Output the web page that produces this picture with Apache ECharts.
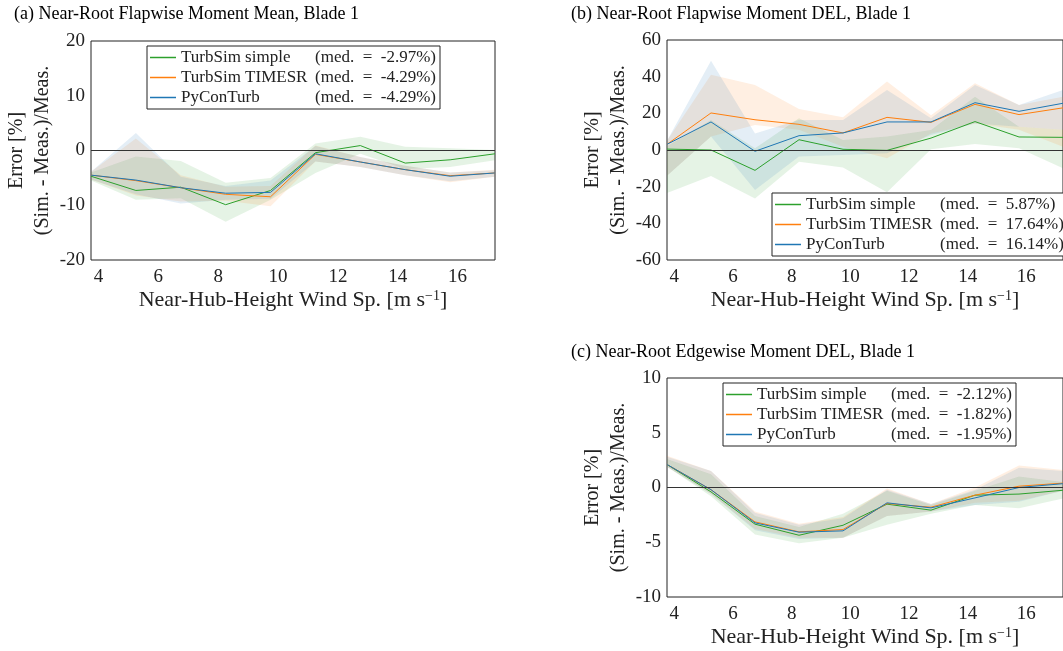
<!DOCTYPE html>
<html>
<head>
<meta charset="utf-8">
<title>Blade 1 near-root moments</title>
<script src="https://cdn.jsdelivr.net/npm/echarts@6/dist/echarts.min.js"></script>
<style>
  html, body { margin: 0; padding: 0; background: #fff; }
  #chart { width: 1063px; height: 651px; }
</style>
</head>
<body>
<div id="chart"></div>
<script>
// wind speed bin centres and tick labels
var windSp = [3.75, 5.25, 6.75, 8.25, 9.75, 11.25, 12.75, 14.25, 15.75, 17.25];
var xTicks = [4, 6, 8, 10, 12, 14, 16];
var names = ['TurbSim simple', 'TurbSim TIMESR', 'PyConTurb'];
var colors = ['#2ca02c', '#ff7f0e', '#1f77b4'];

// (a) flapwise mean
var aSimple   = [-4.7, -7.3, -6.7, -9.9, -7.3, -0.4, 0.9, -2.3, -1.7, -0.6];
var aSimpleLo = [-5.5, -9.0, -8.7, -13.0, -9.0, -4.1, -0.6, -3.4, -3.0, -1.8];
var aSimpleHi = [-4.0, -1.1, -1.9, -5.9, -5.0, 1.3, 2.5, 0.7, 0.4, 0.1];
var aTimesr   = [-4.5, -5.5, -6.8, -8.0, -8.45, -0.7, -2.1, -3.5, -4.6, -4.1];
var aTimesrLo = [-5.3, -8.2, -9.3, -9.2, -10.2, -2.0, -3.0, -4.5, -5.8, -4.8];
var aTimesrHi = [-3.9, 2.2, -4.5, -6.6, -6.5, 0.9, -1.2, -2.8, -4.0, -3.5];
var aPyCon    = [-4.5, -5.4, -6.8, -7.8, -7.65, -0.6, -2.1, -3.5, -4.7, -4.1];
var aPyConLo  = [-5.3, -8.0, -9.7, -9.0, -8.8, -2.0, -3.0, -4.5, -5.6, -4.8];
var aPyConHi  = [-3.9, 3.2, -4.8, -6.5, -5.5, 0.8, -1.2, -2.8, -4.0, -3.6];
var aMed = [-2.97, -4.29, -4.29];

// (b) flapwise DEL
var bSimple   = [0.5, 0.0, -11.1, 5.6, 0.4, -0.2, 6.5, 15.5, 7.1, 6.9];
var bSimpleLo = [-23.5, -14.2, -26.4, -6.4, -9.5, -23.1, 0.4, 3.3, 1.0, -10.0];
var bSimpleHi = [2.0, 16.4, 1.0, 17.3, 5.5, 7.3, 10.9, 29.0, 12.7, 11.0];
var bTimesr   = [3.1, 20.2, 16.5, 14.0, 9.3, 17.8, 15.1, 24.9, 19.3, 23.0];
var bTimesrLo = [-14.0, 7.3, 13.6, 11.0, 1.8, -4.5, 9.0, 14.5, 11.0, 1.8];
var bTimesrHi = [5.0, 41.0, 35.5, 22.4, 17.8, 37.3, 19.0, 36.4, 24.5, 29.0];
var bPyCon    = [3.1, 15.3, -0.7, 7.8, 9.3, 15.3, 15.3, 25.8, 21.1, 25.5];
var bPyConLo  = [-14.0, 7.3, -21.8, -3.6, -2.7, -1.8, 8.2, 14.5, 12.7, 11.0];
var bPyConHi  = [5.0, 48.7, 9.0, 16.4, 16.4, 32.7, 17.3, 35.5, 24.5, 32.7];
var bMed = [5.87, 17.64, 16.14];

// (c) edgewise DEL
var cSimple   = [2.1, -0.4, -3.35, -4.36, -3.45, -1.52, -2.07, -0.7, -0.6, -0.25];
var cSimpleLo = [1.9, -0.8, -4.3, -5.1, -4.6, -3.4, -2.4, -1.6, -1.9, -1.0];
var cSimpleHi = [2.6, 1.2, -2.6, -3.6, -2.4, -0.3, -1.6, -0.3, 1.0, 0.5];
var cTimesr   = [2.1, -0.2, -3.14, -4.05, -3.84, -1.46, -1.8, -0.7, 0.12, 0.4];
var cTimesrLo = [1.9, -0.6, -3.8, -4.6, -4.6, -2.6, -2.2, -1.4, -1.2, -0.3];
var cTimesrHi = [2.9, 1.5, -2.2, -3.3, -2.7, -0.1, -1.5, 0.0, 2.0, 1.6];
var cPyCon    = [2.1, -0.2, -3.23, -4.08, -3.96, -1.4, -1.86, -0.95, 0.0, 0.35];
var cPyConLo  = [1.9, -0.6, -3.9, -4.7, -4.6, -2.6, -2.2, -1.6, -1.3, -0.3];
var cPyConHi  = [2.8, 1.5, -2.3, -3.4, -2.8, -0.2, -1.5, -0.2, 1.8, 1.5];
var cMed = [-2.12, -1.82, -1.95];

var serif = "'Liberation Serif', 'DejaVu Serif', serif";
var ink = '#222';

var myChart = echarts.init(document.getElementById('chart'));

function pairs(ys) {
  return windSp.map(function (x, i) { return [x, ys[i]]; });
}

var grids = [
  { left: 91, top: 41, width: 404, height: 219 },
  { left: 667, top: 40, width: 404, height: 220 },
  { left: 667, top: 378, width: 404, height: 219 }
];
var yRanges = [[-20, 20, 10], [-60, 60, 20], [-10, 10, 5]];

var xAxes = [], yAxes = [];
grids.forEach(function (g, p) {
  g.show = true;
  g.borderColor = ink;
  g.borderWidth = 1;
  g.backgroundColor = 'transparent';
  xAxes.push({
    type: 'value', gridIndex: p, min: 3.75, max: 17.25,
    axisLine: { show: false }, axisTick: { show: false }, splitLine: { show: false },
    axisLabel: { customValues: xTicks, color: ink, fontFamily: serif, fontSize: 19, margin: 8 },
    name: 'Near-Hub-Height Wind Sp. [m s{sup|\u22121}]',
    nameLocation: 'middle', nameGap: 29,
    nameTextStyle: {
      color: ink, fontFamily: serif, fontSize: 22,
      rich: { sup: { fontSize: 14, verticalAlign: 'top', fontFamily: serif, color: ink, padding: [0, 0, 8, 0] } }
    }
  });
  yAxes.push({
    type: 'value', gridIndex: p,
    min: yRanges[p][0], max: yRanges[p][1], interval: yRanges[p][2],
    axisLine: { show: false }, axisTick: { show: false }, splitLine: { show: false },
    axisLabel: { color: ink, fontFamily: serif, fontSize: 19, margin: 6 },
    name: 'Error [%]\n(Sim. - Meas.)/Meas.',
    nameLocation: 'middle', nameRotate: 90, nameGap: 33,
    nameTextStyle: { color: ink, fontFamily: serif, fontSize: 20, lineHeight: 26 }
  });
});

var panels = [
  { means: [aSimple, aTimesr, aPyCon], los: [aSimpleLo, aTimesrLo, aPyConLo], his: [aSimpleHi, aTimesrHi, aPyConHi] },
  { means: [bSimple, bTimesr, bPyCon], los: [bSimpleLo, bTimesrLo, bPyConLo], his: [bSimpleHi, bTimesrHi, bPyConHi] },
  { means: [cSimple, cTimesr, cPyCon], los: [cSimpleLo, cTimesrLo, cPyConLo], his: [cSimpleHi, cTimesrHi, cPyConHi] }
];

// shaded band between lo and hi, drawn as one polygon through the axis scales
function bandSeries(p, lo, hi, color) {
  var rows = windSp.map(function (x, i) { return [x, lo[i], hi[i]]; });
  return {
    type: 'custom', xAxisIndex: p, yAxisIndex: p, silent: true, z: 1,
    data: rows,
    encode: { x: 0, y: [1, 2] },
    renderItem: function (params, api) {
      if (params.dataIndex !== 0) return null;
      var top = rows.map(function (r) { return api.coord([r[0], r[2]]); });
      var bot = rows.map(function (r) { return api.coord([r[0], r[1]]); }).reverse();
      return {
        type: 'polygon',
        shape: { points: top.concat(bot) },
        style: { fill: color, opacity: 0.12 }
      };
    },
    clip: true
  };
}

var series = [];
panels.forEach(function (pn, p) {
  for (var k = 0; k < 3; k++) {
    series.push(bandSeries(p, pn.los[k], pn.his[k], colors[k]));
  }
  for (var j = 0; j < 3; j++) {
    var s = {
      name: names[j], type: 'line', xAxisIndex: p, yAxisIndex: p,
      data: pairs(pn.means[j]), symbol: 'none', color: colors[j],
      lineStyle: { width: 1, color: colors[j] }, z: 3
    };
    if (j === 0) {
      s.markLine = {
        silent: true, symbol: 'none', label: { show: false },
        lineStyle: { color: '#333', width: 1, type: 'solid' },
        data: [{ yAxis: 0 }]
      };
    }
    series.push(s);
  }
});

function makeLegend(meds, left, top) {
  return {
    data: names, orient: 'vertical', left: left, top: top,
    icon: 'rect', itemWidth: 26, itemHeight: 1.5, itemGap: 3,
    padding: [3, 4, 3, 3], borderColor: ink, borderWidth: 1,
    backgroundColor: '#fff', selectedMode: false,
    itemStyle: { borderWidth: 0 },
    textStyle: {
      color: ink, fontFamily: serif, fontSize: 17,
      rich: {
        n: { width: 134, fontSize: 17, fontFamily: serif, color: ink, lineHeight: 17 },
        m: { fontSize: 17, fontFamily: serif, color: ink, lineHeight: 17 }
      }
    },
    formatter: function (name) {
      var v = meds[names.indexOf(name)];
      var sign = v < 0 ? '-' : '';
      return '{n|' + name + '}{m|(med.  =  ' + sign + Math.abs(v).toFixed(2) + '%)}';
    }
  };
}

var titleStyle = { color: '#000', fontFamily: serif, fontSize: 18, fontWeight: 'normal' };

var option = {
  animation: false,
  title: [
    { text: '(a) Near-Root Flapwise Moment Mean, Blade 1', left: 14, top: 5, padding: 0, textStyle: titleStyle },
    { text: '(b) Near-Root Flapwise Moment DEL, Blade 1', left: 571, top: 5, padding: 0, textStyle: titleStyle },
    { text: '(c) Near-Root Edgewise Moment DEL, Blade 1', left: 571, top: 343, padding: 0, textStyle: titleStyle }
  ],
  legend: [
    makeLegend(aMed, 147, 46),
    makeLegend(bMed, 772, 193),
    makeLegend(cMed, 723, 383)
  ],
  grid: grids,
  xAxis: xAxes,
  yAxis: yAxes,
  series: series
};

myChart.setOption(option);
window.addEventListener('resize', function () {
  myChart.resize();
});
</script>
</body>
</html>
